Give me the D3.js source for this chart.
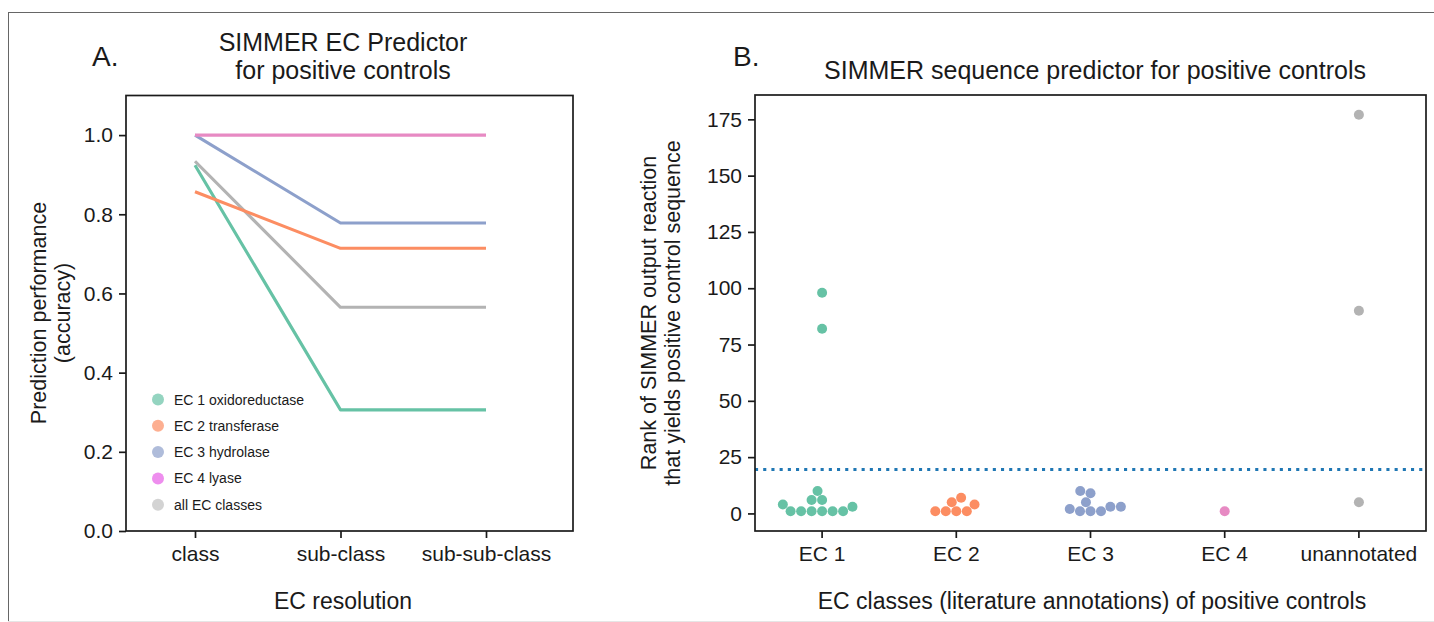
<!DOCTYPE html>
<html><head><meta charset="utf-8">
<script src="https://cdn.jsdelivr.net/npm/d3@7"></script>
<style>
html,body{margin:0;padding:0;background:#fff;}
svg{display:block;font-family:"Liberation Sans",Arial,Helvetica,sans-serif;}
</style></head>
<body>
<svg id="chart" width="1434" height="622"></svg>
<script>
// ---------- Panel A data ----------
const resolutions = ["class", "sub-class", "sub-sub-class"];
const seriesNames = ["EC 1 oxidoreductase", "EC 2 transferase", "EC 3 hydrolase", "EC 4 lyase", "all EC classes"];
const ec1Acc = [0.924, 0.306, 0.306];
const ec2Acc = [0.857, 0.714, 0.714];
const ec3Acc = [1.0, 0.778, 0.778];
const ec4Acc = [1.0, 1.0, 1.0];
const allAcc = [0.934, 0.565, 0.565];
const accTicks = [0.0, 0.2, 0.4, 0.6, 0.8, 1.0];

// ---------- Panel B data ----------
const ecClasses = ["EC 1", "EC 2", "EC 3", "EC 4", "unannotated"];
const ranksEC1 = [1, 1, 1, 1, 1, 1, 3, 4, 6, 6, 10, 82, 98];
const ranksEC2 = [1, 1, 1, 1, 4, 5, 7];
const ranksEC3 = [1, 1, 1, 2, 3, 3, 5, 9, 10];
const ranksEC4 = [1];
const ranksUnannotated = [5, 90, 177];
const rankThreshold = 19.5;
const rankTicks = [0, 25, 50, 75, 100, 125, 150, 175];

const lineColors = ["#66c2a5", "#fc8d62", "#8da0cb", "#e78ac3", "#b3b3b3"];
const legendColors = ["#94d4c0", "#fdaf91", "#afbcda", "#ee8eee", "#d3d3d3"];
const dotColors = ["#66c2a5", "#fc8d62", "#8da0cb", "#e78ac3", "#b3b3b3"];

const svg = d3.select("#chart");
const ink = "#1a1a1a";

// outer frame
svg.append("line").attr("x1", 8).attr("x2", 1434).attr("y1", 12.5).attr("y2", 12.5).attr("stroke", "#666").attr("stroke-width", 1);
svg.append("line").attr("x1", 8.5).attr("x2", 8.5).attr("y1", 12).attr("y2", 622).attr("stroke", "#666").attr("stroke-width", 1);
svg.append("line").attr("x1", 8).attr("x2", 1434).attr("y1", 621.5).attr("y2", 621.5).attr("stroke", "#e6e6e6").attr("stroke-width", 1);

const tickFont = 21, labelFont = 21.5, xLabelFont = 23, titleFont = 25;

// ================= Panel A =================
const A = {left: 126, right: 573, top: 95.5, bottom: 531};
const xA = d3.scalePoint().domain(resolutions).range([195, 486]);
const yA = d3.scaleLinear().domain([0, 1.1]).range([A.bottom, A.top]);

const gA = svg.append("g");
const seriesA = [ec1Acc, ec2Acc, ec3Acc, ec4Acc, allAcc];
const lineGen = d3.line().x((d, i) => xA(resolutions[i])).y(d => yA(d));
[4, 0, 1, 2, 3].forEach(k => {
  gA.append("path").attr("d", lineGen(seriesA[k]))
    .attr("fill", "none").attr("stroke", lineColors[k]).attr("stroke-width", 3.1)
    .attr("stroke-linejoin", "round");
});

const axAy = gA.append("g").attr("transform", `translate(${A.left},0)`)
  .call(d3.axisLeft(yA).tickValues(accTicks).tickFormat(d3.format(".1f")).tickSize(7).tickPadding(6));
const axAx = gA.append("g").attr("transform", `translate(0,${A.bottom})`)
  .call(d3.axisBottom(xA).tickSize(7).tickPadding(8));
[axAy, axAx].forEach(a => {
  a.select(".domain").remove();
  a.selectAll("line").attr("stroke", ink).attr("stroke-width", 1.7);
  a.selectAll("text").attr("font-size", tickFont).attr("fill", ink).attr("font-family", "Liberation Sans, Arial, sans-serif");
});
gA.append("rect").attr("x", A.left).attr("y", A.top).attr("width", A.right - A.left).attr("height", A.bottom - A.top)
  .attr("fill", "none").attr("stroke", ink).attr("stroke-width", 1.7);

// legend
const leg = gA.append("g");
seriesNames.forEach((name, i) => {
  const cy = 399.5 + i * 26.3;
  leg.append("circle").attr("cx", 158).attr("cy", cy).attr("r", 6).attr("fill", legendColors[i]);
  leg.append("text").attr("x", 174).attr("y", cy + 5).attr("font-size", 14).attr("fill", ink).text(name);
});

// titles and labels A
svg.append("text").attr("x", 92).attr("y", 66).attr("font-size", 28).attr("fill", ink).text("A.");
svg.append("text").attr("x", 343).attr("y", 51).attr("text-anchor", "middle").attr("font-size", titleFont).attr("fill", ink).text("SIMMER EC Predictor");
svg.append("text").attr("x", 343).attr("y", 79).attr("text-anchor", "middle").attr("font-size", titleFont).attr("fill", ink).text("for positive controls");
svg.append("text").attr("x", 343).attr("y", 609).attr("text-anchor", "middle").attr("font-size", xLabelFont).attr("fill", ink).text("EC resolution");
svg.append("text").attr("transform", "translate(46,313) rotate(-90)").attr("text-anchor", "middle").attr("font-size", labelFont).attr("fill", ink).text("Prediction performance");
svg.append("text").attr("transform", "translate(70,313) rotate(-90)").attr("text-anchor", "middle").attr("font-size", labelFont).attr("fill", ink).text("(accuracy)");

// ================= Panel B =================
const B = {left: 755, right: 1426, top: 95, bottom: 531};
const xB = d3.scaleBand().domain(ecClasses).range([B.left, B.right]);
const yB = d3.scaleLinear().domain([-7.8, 185.8]).range([B.bottom, B.top]);
const gB = svg.append("g");

gB.append("line").attr("x1", B.left).attr("x2", B.right).attr("y1", yB(rankThreshold)).attr("y2", yB(rankThreshold))
  .attr("stroke", "#1f77b4").attr("stroke-width", 3.1).attr("stroke-dasharray", "3.1,5.1");

// beeswarm (seaborn-like)
const R = 5;
function swarm(values, cx) {
  const pts = values.map(v => ({v, y: yB(v), dx: 0})).sort((a, b) => a.v - b.v);
  const placed = [];
  pts.forEach(p => {
    const nb = [];
    for (let j = placed.length - 1; j >= 0; j--) {
      if (Math.abs(p.y - placed[j].y) < 2 * R) nb.push(placed[j]); else break;
    }
    const cands = [0];
    let leftFirst = true;
    nb.forEach(q => {
      const dy = p.y - q.y;
      const dx = Math.sqrt(Math.max(4 * R * R - dy * dy, 0)) * 1.05;
      if (leftFirst) cands.push(q.dx - dx, q.dx + dx); else cands.push(q.dx + dx, q.dx - dx);
      leftFirst = !leftFirst;
    });
    cands.sort((a, b) => {
      const d = Math.abs(a) - Math.abs(b);
      if (Math.abs(d) > 1e-6) return d;
      return a - b;
    });
    let chosen = cands[0];
    for (const c of cands) {
      const ok = nb.every(q => Math.hypot(c - q.dx, p.y - q.y) >= 2 * R - 1e-6);
      if (ok) { chosen = c; break; }
    }
    p.dx = chosen;
    placed.push(p);
  });
  return placed.map(p => ({x: cx + p.dx, y: p.y}));
}
const rankSeries = [ranksEC1, ranksEC2, ranksEC3, ranksEC4, ranksUnannotated];
rankSeries.forEach((vals, k) => {
  const cx = xB(ecClasses[k]) + xB.bandwidth() / 2;
  gB.selectAll(null).data(swarm(vals, cx)).enter().append("circle")
    .attr("cx", d => d.x).attr("cy", d => d.y).attr("r", R).attr("fill", dotColors[k]);
});

const axBy = gB.append("g").attr("transform", `translate(${B.left},0)`)
  .call(d3.axisLeft(yB).tickValues(rankTicks).tickSize(7).tickPadding(6));
const axBx = gB.append("g").attr("transform", `translate(0,${B.bottom})`)
  .call(d3.axisBottom(xB).tickSize(7).tickPadding(8));
[axBy, axBx].forEach(a => {
  a.select(".domain").remove();
  a.selectAll("line").attr("stroke", ink).attr("stroke-width", 1.7);
  a.selectAll("text").attr("font-size", tickFont).attr("fill", ink).attr("font-family", "Liberation Sans, Arial, sans-serif");
});
gB.append("rect").attr("x", B.left).attr("y", B.top).attr("width", B.right - B.left).attr("height", B.bottom - B.top)
  .attr("fill", "none").attr("stroke", ink).attr("stroke-width", 1.7);

svg.append("text").attr("x", 733).attr("y", 66).attr("font-size", 28).attr("fill", ink).text("B.");
svg.append("text").attr("x", 1095).attr("y", 79).attr("text-anchor", "middle").attr("font-size", titleFont).attr("fill", ink).text("SIMMER sequence predictor for positive controls");
svg.append("text").attr("x", 1092).attr("y", 609).attr("text-anchor", "middle").attr("font-size", xLabelFont).attr("fill", ink).text("EC classes (literature annotations) of positive controls");
svg.append("text").attr("transform", "translate(656,313) rotate(-90)").attr("text-anchor", "middle").attr("font-size", labelFont).attr("fill", ink).text("Rank of SIMMER output reaction");
svg.append("text").attr("transform", "translate(680,313) rotate(-90)").attr("text-anchor", "middle").attr("font-size", labelFont).attr("fill", ink).text("that yields positive control sequence");
</script>
</body></html>
